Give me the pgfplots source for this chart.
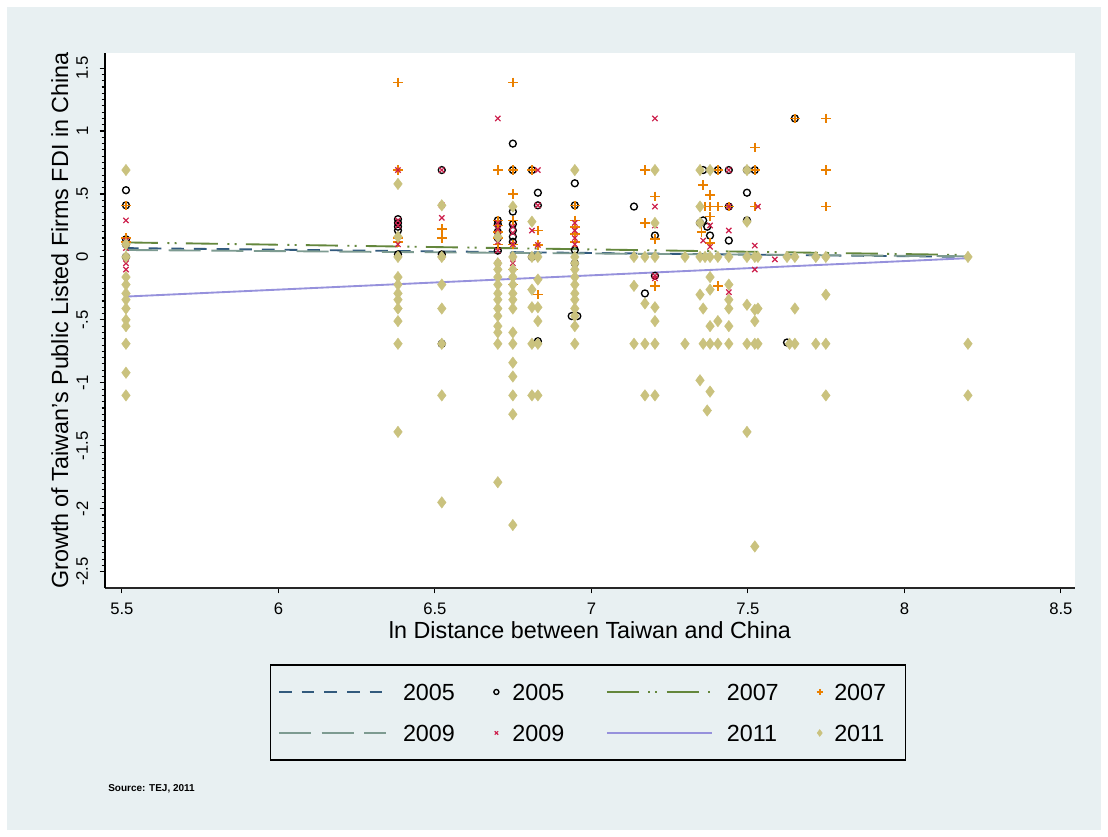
\documentclass[border=0pt]{standalone}
\usepackage{pgfplots}
\pgfplotsset{compat=1.18}
\usepackage{fontspec}
\setmainfont{Liberation Sans}
\definecolor{bgc}{RGB}{232,240,242}
\definecolor{c05}{RGB}{50,90,125}
\definecolor{c07}{RGB}{100,135,60}
\definecolor{c09}{RGB}{125,155,145}
\definecolor{c11}{RGB}{150,145,220}
\definecolor{dkor}{RGB}{234,128,0}
\definecolor{cran}{RGB}{205,30,75}
\definecolor{khak}{RGB}{202,194,126}
\newcommand{\tfont}{\fontsize{17.5}{20}\selectfont}
\newcommand{\kfont}{\fontsize{12.5}{14}\selectfont}
\pgfplotsset{
  legLineA/.style={legend image code/.code={\path[draw=none,fill=none] (-6.4pt,0) rectangle (93pt,0); \draw[##1] (0pt,0pt) -- (80.25pt,0pt);}},
  legLineB/.style={legend image code/.code={\path[draw=none,fill=none] (-31.9pt,0) rectangle (90pt,0); \draw[##1] (0pt,0pt) -- (78.75pt,0pt);}},
  legMarkA/.style={legend image code/.code={\path[draw=none,fill=none] (-31.1pt,0) rectangle (12pt,0); \draw[##1, mark size=#1] plot coordinates {(0pt,0pt)};}},
  legMarkB/.style={legend image code/.code={\path[draw=none,fill=none] (-30.75pt,0) rectangle (10.9pt,0); \draw[##1, mark size=#1] plot coordinates {(0pt,0pt)};}},
}
\begin{document}
\begin{tikzpicture}
\useasboundingbox (0,0) rectangle (831pt,627.75pt);
\fill[white] (0,0) rectangle (831pt,627.75pt);
\fill[bgc] (5.25pt,5.25pt) rectangle (825.75pt,622.5pt);
\begin{axis}[
  at={(78.75pt,186.75pt)}, anchor=south west,
  width=727.5pt, height=401.25pt, scale only axis,
  xmin=5.446, xmax=8.545, ymin=-2.63, ymax=1.62,
  axis background/.style={fill=white},
  axis x line*=bottom, axis y line*=left,
  x axis line style={line width=1pt, black!85},
  y axis line style={line width=1.3pt, black},
  tick align=outside,
  xtick={5.5,6,6.5,7,7.5,8,8.5},
  xticklabels={5.5,6,6.5,7,7.5,8,8.5},
  ytick={-2.5,-2,-1.5,-1,-0.5,0,0.5,1,1.5},
  yticklabels={-2.5,-2,-1.5,-1,-.5,0,.5,1,1.5},
  minor y tick num=9,
  major tick length=4pt, minor tick length=2.5pt,
  every tick/.style={black, line width=0.8pt},
  xticklabel style={font=\kfont, anchor=north, inner sep=0pt},
  xticklabel shift=7pt,
  yticklabel style={font=\kfont, rotate=90, anchor=south, inner sep=0pt},
  yticklabel shift=8.5pt,
  every axis x label/.style={at={(axis description cs:0.5,-0.0785)}, anchor=center, font=\tfont},
  every axis y label/.style={at={(axis description cs:-0.0465,0.5)}, rotate=90, anchor=center, font=\tfont},
  xlabel={ln Distance between Taiwan and China},
  ylabel={Growth of Taiwan's Public Listed Firms FDI in China},
  legend columns=4,
  legend style={
    at={(0.498,-0.2327)}, anchor=center,
    draw=black, line width=1pt, fill=none,
    inner xsep=0pt, inner ysep=14pt,
    column sep=0pt, row sep=18.15pt,
    cells={anchor=west},
    nodes={inner sep=0pt, text height=12.6pt, text depth=0pt, font=\tfont},
  },
]
% ---- 2005
\addplot[c05, line width=1.4pt, dash pattern=on 9.5pt off 7.5pt, legLineA]
  coordinates {(5.513,0.07) (8.203,0.0)};
\addlegendentry{2005}
\addplot[only marks, mark=o, mark size=2.6pt, black, line width=1pt, legMarkA=1.9pt]
  coordinates {
  (5.513,0.53) (5.513,0.41) (5.513,0.14) (5.513,0.10) (5.513,0.0)
  (6.382,0.30) (6.382,0.27) (6.382,0.24) (6.382,0.21) (6.382,0.02)
  (6.522,0.69) (6.522,0.02) (6.522,-0.69)
  (6.701,0.29) (6.701,0.26) (6.701,0.20) (6.701,0.15) (6.701,0.05)
  (6.749,0.90) (6.749,0.69) (6.749,0.36) (6.749,0.26) (6.749,0.21) (6.749,0.16) (6.749,0.12)
  (6.810,0.69) (6.829,0.51) (6.829,0.41) (6.810,0.0) (6.829,-0.67)
  (6.947,0.585) (6.947,0.41) (6.947,0.055) (6.947,-0.05) (6.937,-0.47) (6.955,-0.47)
  (7.136,0.40) (7.171,-0.29) (7.203,0.17) (7.203,-0.15)
  (7.357,0.69) (7.404,0.69) (7.439,0.69) (7.357,0.29) (7.347,0.27) (7.370,0.24) (7.379,0.17) (7.439,0.40) (7.439,0.13)
  (7.497,0.69) (7.522,0.69) (7.497,0.51) (7.497,0.29)
  (7.625,-0.68) (7.650,1.10)
  };
\addlegendentry{2005}
% ---- 2007
\addplot[c07, line width=1.4pt, dash pattern=on 24pt off 7pt on 1.5pt off 4pt on 1.5pt off 7pt, legLineB]
  coordinates {(5.513,0.115) (8.203,0.015)};
\addlegendentry{2007}
\addplot[only marks, mark=+, mark size=3.6pt, dkor, line width=1.2pt, legMarkB=2.3pt]
  coordinates {
  (5.513,0.41) (5.513,0.15) (5.513,0.12)
  (6.382,1.386) (6.382,0.69) (6.382,0.15) (6.382,0.12)
  (6.522,0.22) (6.522,0.15)
  (6.701,0.69) (6.701,0.29) (6.701,0.25) (6.701,0.20) (6.701,0.15) (6.701,0.10)
  (6.749,1.386) (6.749,0.69) (6.749,0.50) (6.749,0.29) (6.749,0.10) (6.749,-0.10) (6.749,-0.22)
  (6.810,0.69) (6.829,0.21) (6.829,0.095) (6.829,-0.30)
  (6.947,0.41) (6.947,0.29) (6.947,0.24) (6.947,0.18) (6.947,0.12)
  (7.171,0.69) (7.171,0.27) (7.203,0.48) (7.203,0.14) (7.203,-0.23)
  (7.357,0.57) (7.379,0.49) (7.363,0.40) (7.379,0.40) (7.404,0.40) (7.379,0.32) (7.352,0.20) (7.379,0.11) (7.404,0.69) (7.439,0.40) (7.404,-0.23)
  (7.522,0.87) (7.522,0.69) (7.522,0.40) (7.650,1.10)
  (7.749,1.10) (7.749,0.69) (7.749,0.40)
  };
\addlegendentry{2007\rule{14.6pt}{0pt}}
% ---- 2009
\addplot[c09, line width=1.4pt, dash pattern=on 24pt off 8pt, legLineA]
  coordinates {(5.513,0.055) (8.203,0.005)};
\addlegendentry{2009}
\addplot[only marks, mark=x, mark size=2.8pt, cran, line width=0.9pt, legMarkA=1.8pt]
  coordinates {
  (5.513,0.29) (5.513,0.13) (5.513,0.07) (5.513,-0.05) (5.513,-0.10)
  (6.382,0.69) (6.382,0.29) (6.382,0.25) (6.382,0.10)
  (6.522,0.69) (6.522,0.41) (6.522,0.31) (6.522,0.0)
  (6.701,1.10) (6.701,0.27) (6.701,0.22) (6.701,0.17) (6.701,0.12) (6.701,0.05) (6.701,-0.05)
  (6.749,0.24) (6.749,0.19) (6.749,0.10) (6.749,0.0) (6.749,-0.05)
  (6.829,0.69) (6.829,0.41) (6.810,0.21) (6.829,0.095)
  (6.947,0.27) (6.947,0.21) (6.947,0.15) (6.947,0.10)
  (7.203,1.10) (7.203,0.40) (7.203,0.25) (7.203,-0.15) (7.203,-0.17)
  (7.439,0.69) (7.439,0.40) (7.379,0.25) (7.357,0.13) (7.379,0.08) (7.439,0.21) (7.439,-0.28)
  (7.532,0.40) (7.522,0.09) (7.522,-0.10) (7.586,-0.02)
  };
\addlegendentry{2009}
% ---- 2011
\addplot[c11, line width=1.4pt, legLineB]
  coordinates {(5.513,-0.315) (8.203,-0.01)};
\addlegendentry{2011}
\addplot[only marks, mark=diamond*, mark size=4.3pt, khak, line width=0.3pt, mark options={fill=khak, draw=khak}, legMarkB=2.6pt]
  coordinates {
  (5.513,0.69) (5.513,0.10) (5.513,0.0) (5.513,-0.16) (5.513,-0.22) (5.513,-0.29) (5.513,-0.34) (5.513,-0.41) (5.513,-0.50) (5.513,-0.55) (5.513,-0.69) (5.513,-0.92) (5.513,-1.10)
  (6.382,0.58) (6.382,0.16) (6.382,0.0) (6.382,-0.16) (6.382,-0.22) (6.382,-0.29) (6.382,-0.34) (6.382,-0.41) (6.382,-0.51) (6.382,-0.69) (6.382,-1.39)
  (6.522,0.41) (6.522,0.0) (6.522,-0.22) (6.522,-0.41) (6.522,-0.69) (6.522,-1.10) (6.522,-1.95)
  (6.701,0.16) (6.701,-0.05) (6.701,-0.10) (6.701,-0.16) (6.701,-0.22) (6.701,-0.29) (6.701,-0.34) (6.701,-0.41) (6.701,-0.47) (6.701,-0.55) (6.701,-0.60) (6.701,-0.69) (6.701,-1.79)
  (6.749,0.40) (6.749,0.0) (6.749,-0.10) (6.749,-0.16) (6.749,-0.22) (6.749,-0.29) (6.749,-0.34) (6.749,-0.41) (6.749,-0.60) (6.749,-0.69) (6.749,-0.84) (6.749,-0.95) (6.749,-1.10) (6.749,-1.25) (6.749,-2.13)
  (6.810,0.28) (6.810,0.0) (6.829,0.0) (6.829,-0.18) (6.810,-0.26) (6.810,-0.40) (6.829,-0.40) (6.829,-0.51) (6.810,-0.69) (6.829,-0.69) (6.810,-1.10) (6.829,-1.10)
  (6.947,0.69) (6.947,0.0) (6.947,-0.05) (6.947,-0.10) (6.947,-0.16) (6.947,-0.22) (6.947,-0.29) (6.947,-0.34) (6.947,-0.41) (6.947,-0.47) (6.947,-0.55) (6.947,-0.69)
  (7.136,0.0) (7.136,-0.23) (7.136,-0.69)
  (7.171,0.0) (7.171,-0.37) (7.171,-0.69) (7.171,-1.10)
  (7.203,0.69) (7.203,0.27) (7.203,0.0) (7.203,-0.40) (7.203,-0.51) (7.203,-0.69) (7.203,-1.10)
  (7.299,0.0) (7.299,-0.69)
  (7.347,0.69) (7.379,0.69) (7.347,0.40) (7.347,0.27) (7.347,0.0) (7.363,0.0) (7.379,0.0) (7.404,0.0) (7.439,0.0) (7.379,-0.16) (7.379,-0.26) (7.347,-0.30) (7.357,-0.41) (7.439,-0.22) (7.439,-0.34) (7.439,-0.41) (7.379,-0.55) (7.404,-0.51) (7.439,-0.55) (7.357,-0.69) (7.379,-0.69) (7.404,-0.69) (7.439,-0.69) (7.347,-0.98) (7.379,-1.07) (7.370,-1.22)
  (7.497,0.69) (7.497,0.28) (7.497,0.0) (7.522,0.0) (7.532,0.0) (7.497,-0.38) (7.522,-0.42) (7.532,-0.41) (7.522,-0.51) (7.497,-0.69) (7.522,-0.69) (7.532,-0.69) (7.497,-1.39) (7.522,-2.30)
  (7.625,0.0) (7.650,0.0) (7.650,-0.41) (7.633,-0.69) (7.650,-0.69)
  (7.717,0.0) (7.717,-0.69)
  (7.749,0.0) (7.749,-0.30) (7.749,-0.69) (7.749,-1.10)
  (8.203,0.0) (8.203,-0.69) (8.203,-1.10)
  };
\addlegendentry{2011\rule{14.6pt}{0pt}}
\end{axis}
\node[anchor=west, inner sep=0pt, font=\fontsize{7.5}{9}\selectfont\bfseries] at (81pt,36pt) {Source: TEJ, 2011};
\end{tikzpicture}
\end{document}
